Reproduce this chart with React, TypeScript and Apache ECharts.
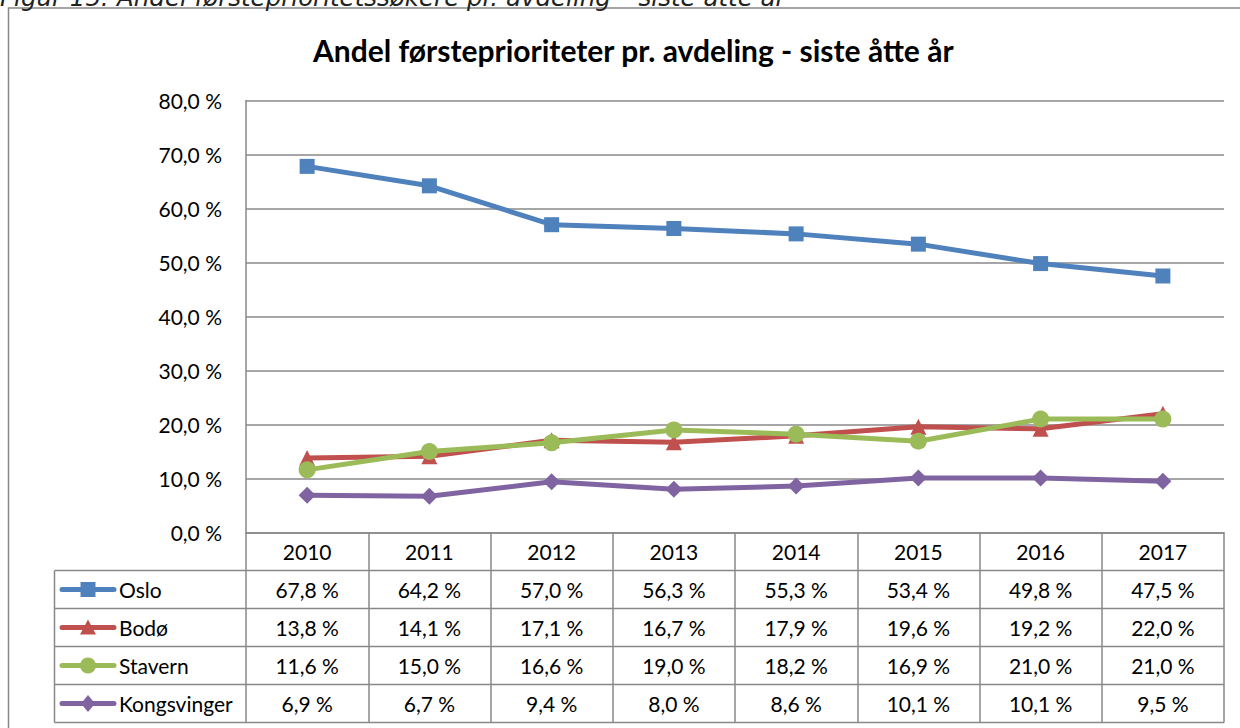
import React, { useEffect, useRef } from "react";
import * as echarts from "echarts";

const years = ["2010", "2011", "2012", "2013", "2014", "2015", "2016", "2017"];
const oslo = [67.8, 64.2, 57.0, 56.3, 55.3, 53.4, 49.8, 47.5];
const bodo = [13.8, 14.1, 17.1, 16.7, 17.9, 19.6, 19.2, 22.0];
const stavern = [11.6, 15.0, 16.6, 19.0, 18.2, 16.9, 21.0, 21.0];
const kongsvinger = [6.9, 6.7, 9.4, 8.0, 8.6, 10.1, 10.1, 9.5];
const seriesNames = ["Oslo", "Bodø", "Stavern", "Kongsvinger"];
const seriesData = [oslo, bodo, stavern, kongsvinger];
const seriesColors = ["#4F81BD", "#C0504D", "#9BBB59", "#8064A2"];
const seriesSymbols = ["rect", "triangle", "circle", "diamond"];
const seriesSymbolSizes = [15, 16, 17, 17];

const caption = "Figur 15: Andel førsteprioritetssøkere pr. avdeling – siste åtte år";
const title = "Andel førsteprioriteter pr. avdeling - siste åtte år";

const fmt = (v: number) => v.toFixed(1).replace(".", ",") + " %";

const FONT = "Lato";
const GRID_LEFT = 246;
const GRID_RIGHT = 1224;
const GRID_TOP = 100.5;
const GRID_BOTTOM = 532.5;
const ROW_H = 38;
const TABLE_LEFT = 54.5;
const LINE_COLOR = "#888888";
const LINE_W = 5;

function legendSymbol(kind: string, cx: number, cy: number, color: string): any {
  const style = { fill: color, stroke: "none" };
  if (kind === "rect") {
    return { type: "rect", shape: { x: cx - 7.5, y: cy - 7.5, width: 15, height: 15 }, style };
  }
  if (kind === "triangle") {
    return {
      type: "polygon",
      shape: { points: [[cx, cy - 8], [cx + 8, cy + 7], [cx - 8, cy + 7]] },
      style,
    };
  }
  if (kind === "circle") {
    return { type: "circle", shape: { cx, cy, r: 8 }, style };
  }
  return {
    type: "polygon",
    shape: { points: [[cx, cy - 8.5], [cx + 7, cy], [cx, cy + 8.5], [cx - 7, cy]] },
    style,
  };
}

export default function App() {
  const ref = useRef<HTMLDivElement>(null);
  useEffect(() => {
    if (!ref.current) return;
    const chart = echarts.init(ref.current, undefined, { renderer: "svg" });

    const extraAxes = seriesData.map((d, r) => ({
      type: "category" as const,
      data: years,
      position: "bottom" as const,
      offset: ROW_H * (r + 1),
      axisLine: { show: false },
      axisTick: { show: false },
      splitLine: { show: false },
      axisLabel: {
        interval: 0,
        margin: ROW_H / 2,
        verticalAlign: "middle" as const,
        color: "#000",
        fontFamily: FONT,
        fontSize: 21,
        formatter: (_v: string, i: number) => fmt(d[i]),
      },
    }));

    const tableGraphics: any[] = [];
    for (let r = 1; r <= seriesData.length + 1; r++) {
      const y = GRID_BOTTOM + ROW_H * r;
      tableGraphics.push({
        type: "line",
        shape: { x1: TABLE_LEFT, y1: y, x2: GRID_RIGHT, y2: y },
        style: { stroke: LINE_COLOR, lineWidth: 1.5 },
      });
    }
    tableGraphics.push({
      type: "line",
      shape: {
        x1: TABLE_LEFT,
        y1: GRID_BOTTOM + ROW_H,
        x2: TABLE_LEFT,
        y2: GRID_BOTTOM + ROW_H * (seriesData.length + 1),
      },
      style: { stroke: LINE_COLOR, lineWidth: 1.5 },
    });
    seriesNames.forEach((name, i) => {
      const cy = GRID_BOTTOM + ROW_H * (i + 1) + ROW_H / 2;
      const color = seriesColors[i];
      tableGraphics.push({
        type: "line",
        shape: { x1: 62, y1: cy, x2: 114, y2: cy },
        style: { stroke: color, lineWidth: LINE_W, lineCap: "round" },
      });
      tableGraphics.push(legendSymbol(seriesSymbols[i], 88, cy, color));
      tableGraphics.push({
        type: "text",
        x: 119,
        y: cy,
        style: {
          text: name,
          fontFamily: FONT,
          fontSize: 21,
          fill: "#000",
          textAlign: "left",
          textVerticalAlign: "middle",
          verticalAlign: "middle",
        },
      });
    });

    chart.setOption({
      animation: false,
      backgroundColor: "#ffffff",
      textStyle: { fontFamily: FONT },
      title: {
        text: title,
        left: 313,
        top: 35,
        padding: 0,
        textStyle: { fontFamily: FONT, fontWeight: "bold", fontSize: 30, color: "#000" },
      },
      grid: {
        left: GRID_LEFT,
        right: 1240 - GRID_RIGHT,
        top: GRID_TOP,
        bottom: 728 - GRID_BOTTOM,
        containLabel: false,
      },
      xAxis: [
        {
          type: "category",
          data: years,
          boundaryGap: true,
          axisLine: { show: true, lineStyle: { color: LINE_COLOR, width: 1.5 } },
          axisTick: {
            show: true,
            inside: false,
            length: ROW_H * (seriesData.length + 1),
            lineStyle: { color: LINE_COLOR, width: 1.5 },
          },
          axisLabel: {
            interval: 0,
            margin: ROW_H / 2,
            verticalAlign: "middle",
            color: "#000",
            fontFamily: FONT,
            fontSize: 21,
          },
          splitLine: { show: false },
        },
        ...extraAxes,
      ],
      yAxis: {
        type: "value",
        min: 0,
        max: 80,
        interval: 10,
        axisLine: { show: true, lineStyle: { color: LINE_COLOR, width: 1.5 } },
        axisTick: { show: false },
        axisLabel: {
          margin: 24,
          color: "#000",
          fontFamily: FONT,
          fontSize: 21,
          formatter: (v: number) => fmt(v),
        },
        splitLine: { show: true, lineStyle: { color: LINE_COLOR, width: 1.5 } },
      },
      series: seriesData.map((d, i) => ({
        name: seriesNames[i],
        type: "line",
        xAxisIndex: 0,
        data: d,
        symbol: seriesSymbols[i],
        symbolSize: seriesSymbolSizes[i],
        showAllSymbol: true,
        color: seriesColors[i],
        lineStyle: { width: LINE_W, color: seriesColors[i] },
        itemStyle: { color: seriesColors[i] },
      })),
      graphic: [
        {
          type: "rect",
          shape: { x: 8.5, y: 8, width: 1400, height: 900 },
          style: { fill: "none", stroke: LINE_COLOR, lineWidth: 1.5 },
          silent: true,
          z: -10,
        },
        {
          type: "text",
          x: 0,
          y: 10,
          style: {
            text: caption,
            fontFamily: "DejaVu Sans",
            fontStyle: "italic",
            fontSize: 24.5,
            fill: "#222",
            textVerticalAlign: "bottom",
            verticalAlign: "bottom",
          },
        },
        ...tableGraphics,
      ],
    });
    return () => chart.dispose();
  }, []);
  return (
    <div
      ref={ref}
      style={{ position: "fixed", left: 0, top: 0, width: 1240, height: 728 }}
    />
  );
}
